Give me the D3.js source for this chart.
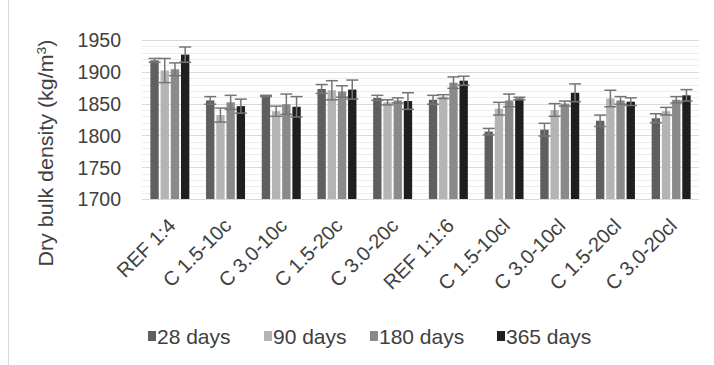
<!DOCTYPE html>
<html>
<head>
<meta charset="utf-8">
<script src="https://cdn.jsdelivr.net/npm/d3@7"></script>
<style>
  body { margin: 0; background: #fff; }
  text { font-family: "Liberation Sans", Arial, sans-serif; fill: #404040; }
</style>
</head>
<body>
<svg id="chart" width="714" height="365"></svg>
<script>
// chart data
var categories = ["REF 1:4", "C 1.5-10c", "C 3.0-10c", "C 1.5-20c", "C 3.0-20c",
                  "REF 1:1:6", "C 1.5-10cl", "C 3.0-10cl", "C 1.5-20cl", "C 3.0-20cl"];
var seriesNames = ["28 days", "90 days", "180 days", "365 days"];
var d28  = [1918, 1855, 1862, 1873, 1859, 1856, 1806, 1809, 1823, 1827];
var d90  = [1902, 1832, 1838, 1871, 1852, 1861, 1842, 1840, 1858, 1838];
var d180 = [1904, 1852, 1849, 1869, 1855, 1883, 1855, 1850, 1855, 1856];
var d365 = [1927, 1846, 1845, 1872, 1854, 1886, 1858, 1867, 1853, 1863];
var e28  = [3, 6, 1, 7, 4, 7, 5, 10, 9, 7];
var e90  = [19, 11, 8, 15, 4, 3, 10, 10, 13, 6];
var e180 = [10, 11, 16, 9, 4, 9, 10, 4, 6, 5];
var e365 = [12, 11, 16, 15, 13, 7, 2, 14, 6, 9];
var yTicks = [1700, 1750, 1800, 1850, 1900, 1950];

var colors = ["#5f5f5f", "#b4b4b4", "#8a8a8a", "#1f1f1f"];
var values = [d28, d90, d180, d365];
var errors = [e28, e90, e180, e365];

var svg = d3.select("#chart");
var plotL = 142, plotR = 699, plotT = 40, plotB = 199;

// thin frame line on the left like the original export
svg.append("line")
  .attr("x1", 8.5).attr("x2", 8.5).attr("y1", 0).attr("y2", 365)
  .attr("stroke", "#d9d9d9");

var x0 = d3.scaleBand().domain(categories).range([plotL, plotR]).paddingInner(0.3).paddingOuter(0.15);
var x1 = d3.scaleBand().domain(d3.range(4)).range([0, x0.bandwidth()]).paddingInner(0.18);
var y = d3.scaleLinear().domain([1700, 1950]).range([plotB, plotT]);

// minor gridlines every 10
svg.append("g").selectAll("line")
  .data(d3.range(1710, 1950, 10).filter(function(v) { return v % 50 != 0; }))
  .enter().append("line")
  .attr("x1", plotL).attr("x2", plotR)
  .attr("y1", function(d) { return Math.round(y(d)) + 0.5; })
  .attr("y2", function(d) { return Math.round(y(d)) + 0.5; })
  .attr("stroke", "#ededed");

// major gridlines
svg.append("g").selectAll("line")
  .data(yTicks)
  .enter().append("line")
  .attr("x1", plotL).attr("x2", plotR)
  .attr("y1", function(d) { return Math.round(y(d)) + 0.5; })
  .attr("y2", function(d) { return Math.round(y(d)) + 0.5; })
  .attr("stroke", "#d9d9d9");

// y axis labels
var yAxis = svg.append("g")
  .attr("transform", "translate(" + (plotL - 21) + ",0)")
  .call(d3.axisLeft(y).tickValues(yTicks).tickFormat(d3.format("d")).tickSize(0).tickPadding(0));
yAxis.select(".domain").remove();
yAxis.selectAll("text")
  .attr("fill", "#404040")
  .style("font-size", "19.5px")
  .style("font-family", "'Liberation Sans', Arial, sans-serif")
  .attr("dy", "0.35em");

svg.append("text")
  .attr("transform", "translate(53," + 153 + ") rotate(-90)")
  .attr("text-anchor", "middle")
  .style("font-size", "20px")
  .attr("textLength", 227)
  .attr("lengthAdjust", "spacingAndGlyphs")
  .html("Dry bulk density (kg/m<tspan dy='-7' style='font-size:13px'>3</tspan><tspan dy='7'>)</tspan>");

// bars
var groups = svg.append("g").selectAll("g")
  .data(categories)
  .enter().append("g")
  .attr("transform", function(d) { return "translate(" + x0(d) + ",0)"; });

function groupData(d, i) {
  return values.map(function(s, k) { return {k: k, v: s[i], e: errors[k][i]}; });
}

groups.selectAll("rect")
  .data(groupData)
  .enter().append("rect")
  .attr("x", function(d) { return x1(d.k); })
  .attr("width", x1.bandwidth())
  .attr("y", function(d) { return y(d.v); })
  .attr("height", function(d) { return y(1700) - y(d.v); })
  .attr("fill", function(d) { return colors[d.k]; });

// error bars
var eb = groups.selectAll("g.err")
  .data(groupData)
  .enter().append("g")
  .attr("class", "err")
  .attr("stroke", "#757575")
  .attr("stroke-width", 1.5);
eb.append("line")
  .attr("x1", function(d) { return x1(d.k) + x1.bandwidth() / 2; })
  .attr("x2", function(d) { return x1(d.k) + x1.bandwidth() / 2; })
  .attr("y1", function(d) { return y(d.v + d.e); })
  .attr("y2", function(d) { return y(d.v - d.e); });
[1, -1].forEach(function(sgn) {
  eb.append("line")
    .attr("x1", function(d) { return x1(d.k) + x1.bandwidth() / 2 - 6; })
    .attr("x2", function(d) { return x1(d.k) + x1.bandwidth() / 2 + 6; })
    .attr("y1", function(d) { return y(d.v + sgn * d.e); })
    .attr("y2", function(d) { return y(d.v + sgn * d.e); });
});

// x axis line
svg.append("line")
  .attr("x1", plotL).attr("x2", plotR)
  .attr("y1", Math.round(y(1700)) + 0.5).attr("y2", Math.round(y(1700)) + 0.5)
  .attr("stroke", "#d9d9d9");

// category labels, rotated
svg.append("g").selectAll("text")
  .data(categories)
  .enter().append("text")
  .attr("text-anchor", "end")
  .style("font-size", "20px")
  .attr("transform", function(d) {
    return "translate(" + (x0(d) + x0.bandwidth() / 2 + 7) + ",227) rotate(-45)";
  })
  .text(function(d) { return d; });

// legend
var legendX = [148, 264, 370, 497];
var leg = svg.append("g").selectAll("g")
  .data(seriesNames)
  .enter().append("g")
  .attr("transform", function(d, i) { return "translate(" + legendX[i] + ",336)"; });
leg.append("rect")
  .attr("x", 0).attr("y", -5).attr("width", 8).attr("height", 10)
  .attr("fill", function(d, i) { return colors[i]; });
leg.append("text")
  .attr("x", 9).attr("dy", "0.36em")
  .style("font-size", "21px")
  .text(function(d) { return d; });
</script>
</body>
</html>
